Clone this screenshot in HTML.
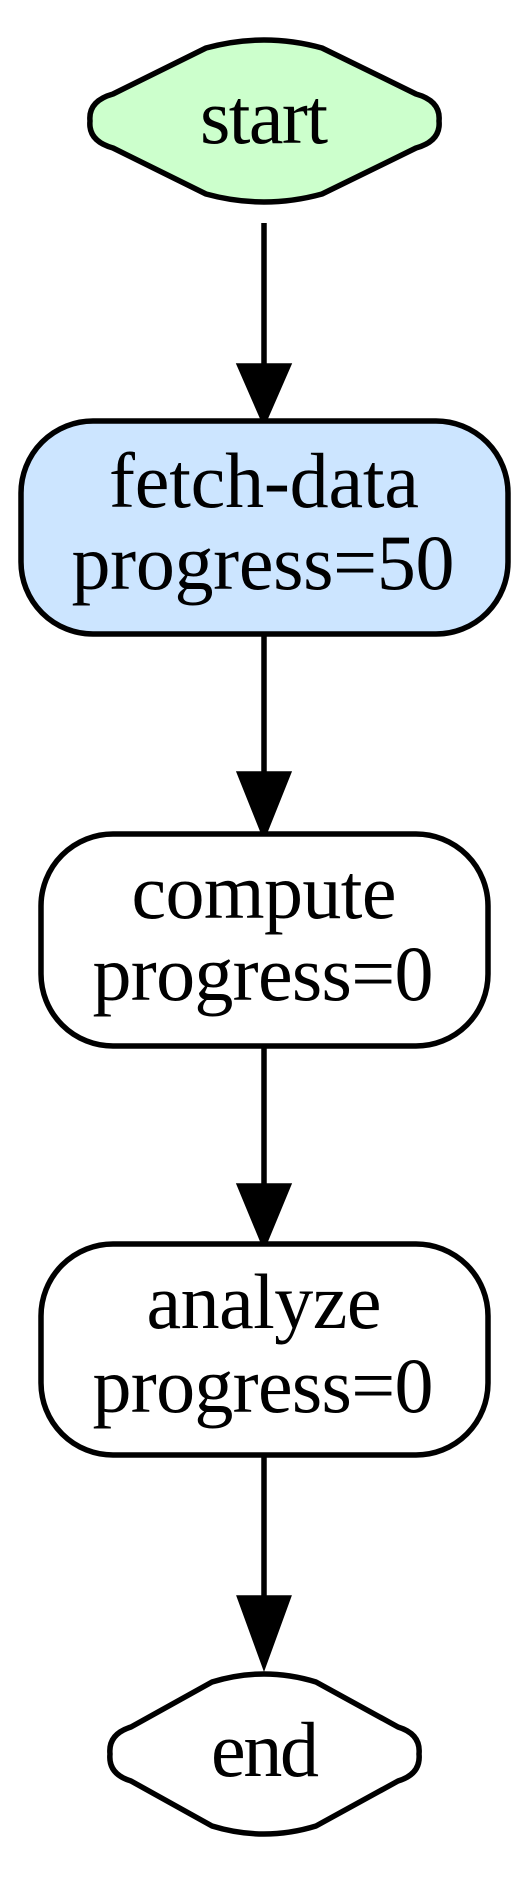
<!DOCTYPE html>
<html><head><meta charset="utf-8"><style>html,body{margin:0;padding:0;background:#fff}svg{display:block}</style></head>
<body>
<svg width="529" height="1879" viewBox="0 0 529 1879" xmlns="http://www.w3.org/2000/svg">
<g stroke="#000" stroke-width="5.5" font-family="'Liberation Serif', serif" font-size="78">
<path d="M90,121 Q88,101 113,94 L206,48 Q264,32 322,48 L416,94 Q441,101 439,121 Q441,141 416,148 L322,194 Q264,210 206,194 L113,148 Q88,141 90,121 Z" fill="#ccffcc"/>
<text x="264" y="143" text-anchor="middle" stroke="none" fill="#000" textLength="128" lengthAdjust="spacing">start</text>

<line x1="264" y1="223" x2="264" y2="366"/>
<path d="M240,366 L288,366 L264,421 Z" fill="#000"/>

<rect x="21" y="421" width="487" height="213" rx="72" ry="72" fill="#cce5ff"/>
<text x="264" y="507" text-anchor="middle" stroke="none" fill="#000" textLength="310" lengthAdjust="spacing">fetch-data</text>
<text x="263" y="589" text-anchor="middle" stroke="none" fill="#000" textLength="383" lengthAdjust="spacing">progress=50</text>

<line x1="264" y1="634" x2="264" y2="774"/>
<path d="M240,774 L288,774 L264,834 Z" fill="#000"/>

<rect x="41" y="834" width="447" height="212" rx="72" ry="72" fill="#fff"/>
<text x="264" y="918" text-anchor="middle" stroke="none" fill="#000" textLength="265" lengthAdjust="spacing">compute</text>
<text x="263" y="1000" text-anchor="middle" stroke="none" fill="#000" textLength="341" lengthAdjust="spacing">progress=0</text>

<line x1="264" y1="1046" x2="264" y2="1186"/>
<path d="M240,1186 L288,1186 L264,1244 Z" fill="#000"/>

<rect x="41" y="1244" width="447" height="211" rx="72" ry="72" fill="#fff"/>
<text x="264" y="1328" text-anchor="middle" stroke="none" fill="#000" textLength="235" lengthAdjust="spacing">analyze</text>
<text x="263" y="1412" text-anchor="middle" stroke="none" fill="#000" textLength="341" lengthAdjust="spacing">progress=0</text>

<line x1="264" y1="1455" x2="264" y2="1598"/>
<path d="M240,1598 L288,1598 L264,1664 Z" fill="#000"/>

<path d="M110,1754 Q108,1734 131,1727 L212,1682 Q264,1666 316,1682 L398,1727 Q421,1734 419,1754 Q421,1774 398,1781 L316,1826 Q264,1842 212,1826 L131,1781 Q108,1774 110,1754 Z" fill="#fff"/>
<text x="265" y="1776" text-anchor="middle" stroke="none" fill="#000" textLength="108" lengthAdjust="spacing">end</text>
</g>
</svg>
</body></html>
